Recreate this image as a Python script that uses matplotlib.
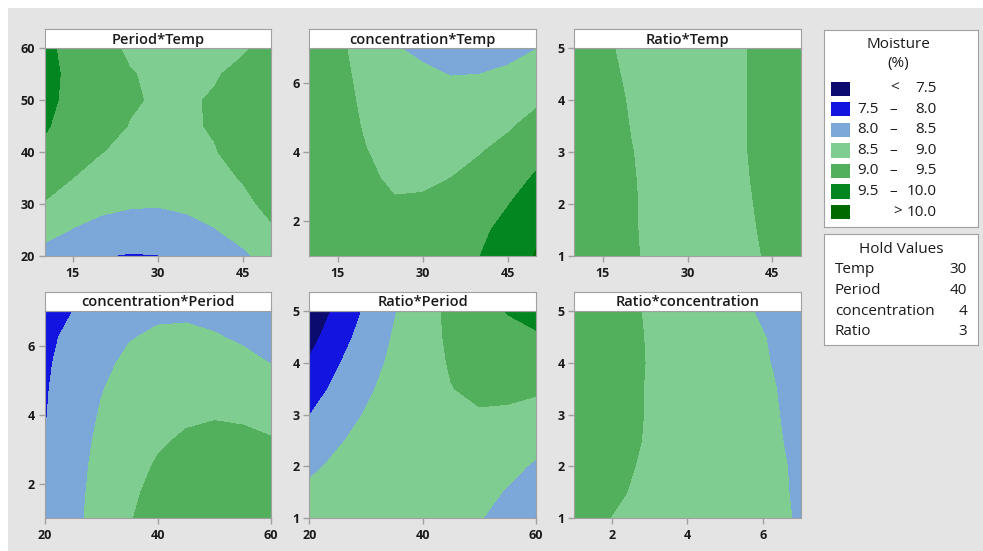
import matplotlib
matplotlib.use('Agg')
import matplotlib.pyplot as plt
from matplotlib.patches import Rectangle

# factor grid values (9 steps across each factor's range)
temp_vals = [10, 15, 20, 25, 30, 35, 40, 45, 50]
period_vals = [20, 25, 30, 35, 40, 45, 50, 55, 60]
conc_vals = [1, 1.75, 2.5, 3.25, 4, 4.75, 5.5, 6.25, 7]
ratio_vals = [1, 1.5, 2, 2.5, 3, 3.5, 4, 4.5, 5]

# Moisture (%), rows = y factor (bottom to top)
period_temp = [
    [8.32, 8.14, 8.02, 7.97, 7.99, 8.07, 8.21, 8.42, 8.69],
    [8.67, 8.48, 8.35, 8.29, 8.29, 8.35, 8.48, 8.68, 8.94],
    [8.97, 8.77, 8.62, 8.55, 8.53, 8.59, 8.70, 8.88, 9.13],
    [9.22, 9.00, 8.84, 8.75, 8.72, 8.76, 8.87, 9.03, 9.27],
    [9.41, 9.18, 9.01, 8.90, 8.86, 8.88, 8.98, 9.13, 9.35],
    [9.55, 9.30, 9.11, 8.99, 8.94, 8.95, 9.03, 9.17, 9.38],
    [9.63, 9.36, 9.17, 9.03, 8.97, 8.96, 9.03, 9.16, 9.35],
    [9.65, 9.38, 9.16, 9.02, 8.94, 8.92, 8.97, 9.09, 9.27],
    [9.62, 9.33, 9.11, 8.95, 8.85, 8.82, 8.86, 8.96, 9.13],
]
conc_temp = [
    [9.29, 9.17, 9.11, 9.12, 9.19, 9.33, 9.49, 9.80, 10.02],
    [9.33, 9.18, 9.09, 9.07, 9.12, 9.23, 9.40, 9.64, 9.94],
    [9.36, 9.18, 9.07, 9.02, 9.04, 9.12, 9.26, 9.48, 9.75],
    [9.39, 9.18, 9.04, 8.96, 8.95, 9.00, 9.12, 9.31, 9.55],
    [9.41, 9.18, 9.01, 8.90, 8.86, 8.88, 8.98, 9.13, 9.35],
    [9.43, 9.16, 8.96, 8.83, 8.76, 8.76, 8.82, 8.95, 9.14],
    [9.44, 9.14, 8.92, 8.76, 8.66, 8.63, 8.66, 8.76, 8.93],
    [9.44, 9.12, 8.87, 8.68, 8.55, 8.49, 8.50, 8.57, 8.71],
    [9.44, 9.09, 8.81, 8.52, 8.44, 8.35, 8.33, 8.37, 8.49],
]
ratio_temp = [
    [9.48, 9.23, 9.04, 8.91, 8.85, 8.85, 8.92, 9.05, 9.25],
    [9.47, 9.22, 9.03, 8.91, 8.85, 8.86, 8.94, 9.07, 9.28],
    [9.45, 9.21, 9.03, 8.91, 8.86, 8.87, 8.95, 9.10, 9.30],
    [9.43, 9.19, 9.02, 8.91, 8.86, 8.88, 8.97, 9.11, 9.33],
    [9.41, 9.18, 9.01, 8.90, 8.86, 8.88, 8.98, 9.13, 9.35],
    [9.38, 9.15, 8.99, 8.89, 8.85, 8.88, 8.98, 9.14, 9.37],
    [9.35, 9.13, 8.97, 8.87, 8.84, 8.88, 8.98, 9.15, 9.38],
    [9.31, 9.10, 8.94, 8.85, 8.83, 8.87, 8.98, 9.15, 9.39],
    [9.27, 9.06, 8.92, 8.83, 8.82, 8.86, 8.98, 9.15, 9.40],
]
conc_period = [
    [8.10, 8.37, 8.70, 8.97, 9.19, 9.36, 9.44, 9.45, 9.45],
    [8.09, 8.36, 8.66, 8.92, 9.12, 9.26, 9.35, 9.38, 9.36],
    [8.08, 8.34, 8.63, 8.86, 9.04, 9.16, 9.23, 9.24, 9.20],
    [7.99, 8.32, 8.58, 8.79, 8.95, 9.05, 9.10, 9.09, 9.03],
    [7.97, 8.29, 8.53, 8.72, 8.86, 8.94, 8.97, 8.94, 8.85],
    [7.95, 8.25, 8.48, 8.65, 8.76, 8.82, 8.83, 8.78, 8.67],
    [7.92, 8.20, 8.42, 8.57, 8.66, 8.70, 8.68, 8.61, 8.49],
    [7.88, 8.12, 8.35, 8.48, 8.55, 8.57, 8.53, 8.44, 8.30],
    [7.84, 8.00, 8.28, 8.39, 8.44, 8.44, 8.38, 8.27, 8.10],
]
ratio_period = [
    [8.81, 8.90, 8.94, 8.92, 8.85, 8.72, 8.53, 8.30, 7.99],
    [8.61, 8.75, 8.84, 8.87, 8.85, 8.78, 8.65, 8.46, 8.22],
    [8.40, 8.60, 8.74, 8.83, 8.86, 8.84, 8.76, 8.62, 8.44],
    [8.20, 8.45, 8.64, 8.78, 8.86, 8.89, 8.86, 8.78, 8.65],
    [7.99, 8.29, 8.53, 8.72, 8.86, 8.94, 8.97, 8.94, 8.85],
    [7.77, 8.12, 8.42, 8.67, 8.85, 8.99, 9.07, 9.09, 9.06],
    [7.55, 7.96, 8.31, 8.60, 8.84, 9.03, 9.16, 9.24, 9.26],
    [7.33, 7.79, 8.19, 8.54, 8.83, 9.07, 9.25, 9.38, 9.45],
    [7.11, 7.62, 8.07, 8.47, 8.81, 9.10, 9.34, 9.52, 9.64],
]
ratio_conc = [
    [9.08, 9.01, 8.97, 8.91, 8.85, 8.77, 8.70, 8.61, 8.45],
    [9.11, 9.06, 8.99, 8.93, 8.85, 8.78, 8.69, 8.60, 8.43],
    [9.14, 9.08, 9.01, 8.94, 8.86, 8.78, 8.69, 8.59, 8.42],
    [9.17, 9.10, 9.03, 8.95, 8.86, 8.77, 8.68, 8.57, 8.38],
    [9.19, 9.12, 9.04, 8.95, 8.86, 8.76, 8.66, 8.55, 8.35],
    [9.21, 9.13, 9.04, 8.95, 8.85, 8.75, 8.64, 8.53, 8.32],
    [9.23, 9.14, 9.05, 8.95, 8.84, 8.74, 8.62, 8.49, 8.30],
    [9.24, 9.15, 9.05, 8.94, 8.83, 8.72, 8.60, 8.47, 8.28],
    [9.25, 9.15, 9.04, 8.93, 8.81, 8.69, 8.55, 8.40, 8.26],
]

panel_titles = ['Period*Temp', 'concentration*Temp', 'Ratio*Temp',
                'concentration*Period', 'Ratio*Period', 'Ratio*concentration']
panel_x = [temp_vals, temp_vals, temp_vals, period_vals, period_vals, conc_vals]
panel_y = [period_vals, conc_vals, ratio_vals, conc_vals, ratio_vals, ratio_vals]
panel_z = [period_temp, conc_temp, ratio_temp, conc_period, ratio_period, ratio_conc]
panel_xticks = [[15, 30, 45]] * 3 + [[20, 40, 60], [20, 40, 60], [2, 4, 6]]
panel_yticks = [[20, 30, 40, 50, 60], [2, 4, 6], [1, 2, 3, 4, 5],
                [2, 4, 6], [1, 2, 3, 4, 5], [1, 2, 3, 4, 5]]

levels = [6, 7.5, 8, 8.5, 9, 9.5, 10, 11]
legend_lo = ['', '7.5', '8.0', '8.5', '9.0', '9.5', '']
legend_hi = ['7.5', '8.0', '8.5', '9.0', '9.5', '10.0', '10.0']
hold_names = ['Temp', 'Period', 'concentration', 'Ratio']
hold_vals = ['30', '40', '4', '3']

colors = ['#0b0b6f', '#1414e0', '#7ba7d9', '#80cd91', '#52af5c', '#03861f', '#006a00']
edge = '#a0a0a0'
txt = '#1a1a1a'
FONT = 'Open Sans'

W, H = 983, 551


def rect(x0, y0, x1, y1):
    # pixel box (top-left origin) -> figure fraction
    return [x0 / W, 1 - y1 / H, (x1 - x0) / W, (y1 - y0) / H]


def ftext(x, y, s, **kw):
    kw.setdefault('family', FONT)
    kw.setdefault('color', txt)
    kw.setdefault('fontsize', 11)
    fig.text(x / W, 1 - y / H, s, va='center', **kw)


def box(x0, y0, x1, y1):
    bx = fig.add_axes(rect(x0, y0, x1, y1))
    bx.set_xticks([])
    bx.set_yticks([])
    for s in bx.spines.values():
        s.set_color(edge)
    return bx


fig = plt.figure(figsize=(W / 100, H / 100), dpi=100, facecolor='white')
fig.patches.append(Rectangle((8 / W, 0), 1, 1 - 8 / H, transform=fig.transFigure,
                             facecolor='#e4e4e4', edgecolor='none', zorder=-10))

cols = [(44.5, 271), (309.3, 536), (574.3, 800.7)]
rows = [(48.3, 255.7), (311, 518.3)]

for i in range(6):
    x0, x1 = cols[i % 3]
    y0, y1 = rows[i // 3]
    xv, yv = panel_x[i], panel_y[i]
    ax = fig.add_axes(rect(x0, y0, x1, y1))
    ax.contourf(xv, yv, panel_z[i], levels=levels, colors=colors, antialiased=False)
    ax.set_xlim(xv[0], xv[-1])
    ax.set_ylim(yv[0], yv[-1])
    ax.set_xticks(panel_xticks[i])
    ax.set_yticks(panel_yticks[i])
    for s in ax.spines.values():
        s.set_color(edge)
    ax.tick_params(color=edge, length=4, width=1, labelcolor=txt, labelsize=9)
    ax.tick_params(axis='x', pad=4)
    ax.tick_params(axis='y', pad=3)
    for lab in ax.get_xticklabels() + ax.get_yticklabels():
        lab.set_family(FONT)
        lab.set_weight('bold')

    tax = box(x0, y0 - 19, x1, y0)
    tax.text(0.5, 0.45, panel_titles[i], transform=tax.transAxes, ha='center',
             va='center', family=FONT, weight='semibold', fontsize=10.5, color=txt)

## Legend and hold values boxes
#
box(824, 30, 978, 227)
box(824, 234, 978, 345)

ftext(898, 45, 'Moisture', ha='center')
ftext(898, 64, '(%)', ha='center')
for k in range(7):
    yc = 88.7 + 20.55 * k
    fig.patches.append(Rectangle((830.7 / W, 1 - (yc + 7.2) / H), 19.3 / W, 14.4 / H,
                                 transform=fig.transFigure, facecolor=colors[k],
                                 edgecolor='none'))
    if k == 0:
        ftext(895, yc, '<', ha='center')
    elif k == 6:
        ftext(898, yc, '>', ha='center')
    else:
        ftext(857.7, yc, legend_lo[k], ha='left')
        ftext(893, yc, '\u2013', ha='center')
    ftext(937, yc, legend_hi[k], ha='right')

ftext(901, 250, 'Hold Values', ha='center')
for k in range(4):
    yc = 269.5 + 20.8 * k
    ftext(835, yc, hold_names[k], ha='left')
    ftext(967, yc, hold_vals[k], ha='right')

fig.savefig('out.png', dpi=100, facecolor=fig.get_facecolor())
